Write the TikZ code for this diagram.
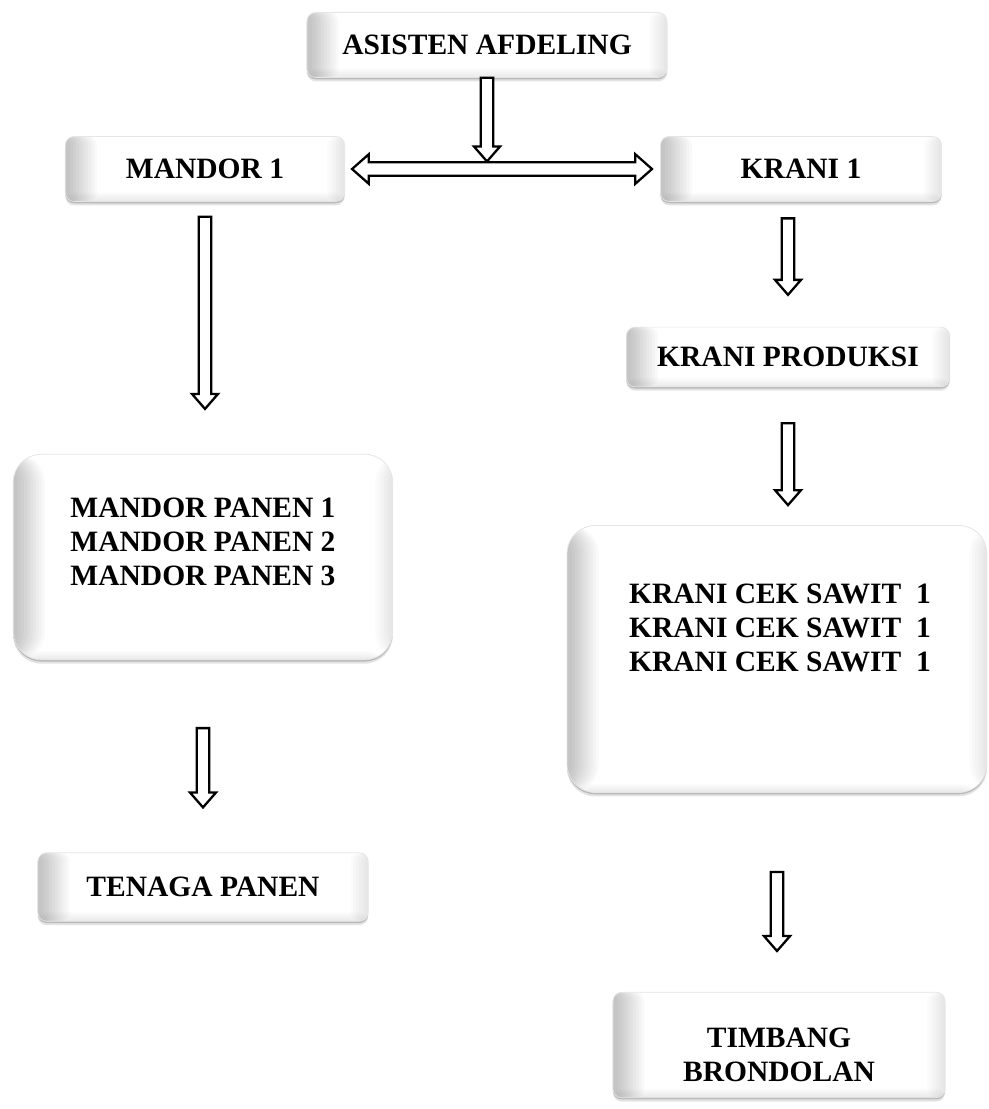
\documentclass[tikz,border=0pt]{standalone}
\usepackage{fontspec}
\setmainfont{Liberation Serif}
\usetikzlibrary{arrows.meta,positioning,shadows,calc}

\tikzset{
  % white card with a soft bevel on the sides
  box/.style={rounded corners=5pt, fill=white, draw=black!10, line width=0.4pt,
    drop shadow={shadow xshift=0pt, shadow yshift=-1pt, opacity=0.35, fill=black!60},
    drop shadow={shadow xshift=0pt, shadow yshift=-2.2pt, opacity=0.18, fill=black!60},
    path picture={
      \foreach \i in {0,...,9}
        \fill[black, opacity=0.022] (path picture bounding box.south west)
          rectangle ([xshift=18pt-\i*1.7pt]path picture bounding box.north west);
      \foreach \i in {0,...,5}
        \fill[black, opacity=0.015] ([xshift=-10pt+\i*1.6pt]path picture bounding box.south east)
          rectangle (path picture bounding box.north east);
      \foreach \i in {0,...,4}
        \fill[black, opacity=0.015] (path picture bounding box.south west)
          rectangle ([yshift=5pt-\i*1pt]path picture bounding box.south east);
    },
    font=\fontsize{16.8}{19.5}\selectfont\bfseries, align=center, inner sep=0pt},
  bigbox/.style={box, rounded corners=16pt},
  lbl/.style={font=\fontsize{16.8}{19.5}\selectfont\bfseries, align=center},
  % block arrow, outline only; #1/#2 = gap at start/end
  hollow/.style 2 args={draw=black, fill=white, line width=1.3pt, line join=miter,
    to path={
      ($(\tikztostart)!#1!(\tikztotarget)!3.6pt!90:(\tikztotarget)$)
      -- ($(\tikztotarget)!#2+8.5pt!(\tikztostart)!3.6pt!-90:(\tikztostart)$)
      -- ($(\tikztotarget)!#2+8.5pt!(\tikztostart)!7.4pt!-90:(\tikztostart)$)
      -- ($(\tikztotarget)!#2!(\tikztostart)$)
      -- ($(\tikztotarget)!#2+8.5pt!(\tikztostart)!7.4pt!90:(\tikztostart)$)
      -- ($(\tikztotarget)!#2+8.5pt!(\tikztostart)!3.6pt!90:(\tikztostart)$)
      -- ($(\tikztostart)!#1!(\tikztotarget)!3.6pt!-90:(\tikztotarget)$)
      -- cycle}},
  hollowboth/.style 2 args={draw=black, fill=white, line width=1.3pt, line join=miter,
    to path={
      ($(\tikztostart)!#1!(\tikztotarget)$)
      -- ($(\tikztostart)!#1+9.5pt!(\tikztotarget)!8.4pt!90:(\tikztotarget)$)
      -- ($(\tikztostart)!#1+9.5pt!(\tikztotarget)!3.9pt!90:(\tikztotarget)$)
      -- ($(\tikztotarget)!#2+9.5pt!(\tikztostart)!3.9pt!-90:(\tikztostart)$)
      -- ($(\tikztotarget)!#2+9.5pt!(\tikztostart)!8.4pt!-90:(\tikztostart)$)
      -- ($(\tikztotarget)!#2!(\tikztostart)$)
      -- ($(\tikztotarget)!#2+9.5pt!(\tikztostart)!8.4pt!90:(\tikztostart)$)
      -- ($(\tikztotarget)!#2+9.5pt!(\tikztostart)!3.9pt!90:(\tikztostart)$)
      -- ($(\tikztostart)!#1+9.5pt!(\tikztotarget)!3.9pt!-90:(\tikztotarget)$)
      -- ($(\tikztostart)!#1+9.5pt!(\tikztotarget)!8.4pt!-90:(\tikztotarget)$)
      -- cycle}},
}

\begin{document}
\begin{tikzpicture}[x=0.02cm, y=-0.02cm]
  \useasboundingbox (0,0) rectangle (988,1109);

  % top level
  \node[box, minimum width=205pt, minimum height=37pt] (asisten) at (487,45) {ASISTEN AFDELING};
  \node[box, minimum width=159pt, minimum height=37pt] (mandor1) at (205,169) {MANDOR 1};
  \node[box, minimum width=160pt, minimum height=37pt] (krani1) at (801,169) {KRANI 1};

  % left branch
  \node[bigbox, minimum width=216pt, minimum height=117pt] (panen) at (203,557) {};
  \node[lbl] (panentxt) at (203,542) {MANDOR PANEN 1\\MANDOR PANEN 2\\MANDOR PANEN 3};
  \node[box, minimum width=188pt, minimum height=39pt] (tenaga) at (203,887) {TENAGA PANEN};

  % right branch
  \node[box, minimum width=184pt, minimum height=34pt] (produksi) at (788,357) {KRANI PRODUKSI};
  \node[bigbox, minimum width=239pt, minimum height=152pt] (cek) at (777,659) {};
  \node[lbl] (cektxt) at (780,628) {KRANI CEK SAWIT\ \ 1\\KRANI CEK SAWIT\ \ 1\\KRANI CEK SAWIT\ \ 1};
  \node[box, minimum width=189pt, minimum height=60pt] (timbang) at (779,1045) {};
  \node[lbl] (timbangtxt) at (779,1055) {TIMBANG\\BRONDOLAN};

  % connectors
  \path (mandor1.east) -- (krani1.west) coordinate[pos=0.46] (mid);
  \draw[hollow={0pt}{4.3pt}] (asisten.south) to (asisten.south |- mid);
  \draw[hollowboth={4pt}{4.6pt}] (mandor1.east) to (krani1.west);

  \draw[hollow={8.5pt}{25.6pt}] (mandor1.south) to (mandor1.south |- panen.north);
  \draw[hollow={38.7pt}{25.6pt}] (panen.south) to (panen.south |- tenaga.north);

  \draw[hollow={9.4pt}{18.2pt}] (produksi.north |- krani1.south) to (produksi.north);
  \draw[hollow={20.5pt}{11.4pt}] (produksi.south) to (produksi.south |- cek.north);
  \draw[hollow={45pt}{23.3pt}] (cek.south) to (cek.south |- timbang.north);
\end{tikzpicture}
\end{document}
